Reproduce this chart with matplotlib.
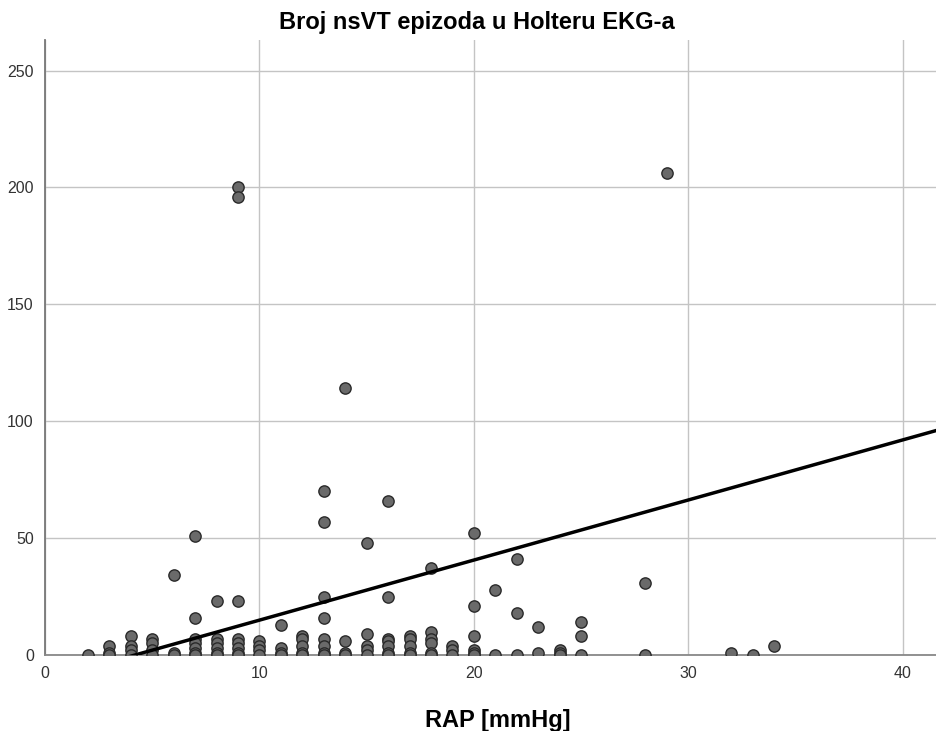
import matplotlib
matplotlib.use("Agg")
import matplotlib.pyplot as plt
import numpy as np

plt.rcParams['font.family'] = ['Liberation Sans', 'DejaVu Sans']

# RAP [mmHg] -> list of nsVT episode counts
points = {
    2: [0],
    3: [4, 1, 0],
    4: [8, 4, 2, 0],
    5: [7, 5, 2, 0],
    6: [34, 1, 0],
    7: [51, 16, 7, 5, 3, 1, 0],
    8: [23, 7, 5, 3, 1, 0],
    9: [200, 196, 23, 7, 5, 3, 1, 0],
    10: [6, 4, 2, 0],
    11: [13, 3, 1, 0],
    12: [8, 7, 4, 1, 0],
    13: [70, 57, 25, 16, 7, 4, 1, 0],
    14: [114, 6, 1, 0],
    15: [48, 9, 4, 2, 0],
    16: [66, 25, 7, 6, 4, 1, 0],
    17: [8, 7, 4, 1, 0],
    18: [37, 10, 7, 5, 1, 0],
    19: [4, 2, 0],
    20: [52, 21, 8, 2, 1, 0],
    21: [28, 0],
    22: [41, 18, 0],
    23: [12, 1],
    24: [2, 1, 0],
    25: [14, 8, 0],
    28: [31, 0],
    29: [206],
    32: [1],
    33: [0],
    34: [4],
}
rap = [x for x, ys in points.items() for _ in ys]
nsvt = [y for ys in points.values() for y in ys]

fit_intercept = -10.8
fit_slope = 2.57

x_ticks = [0, 10, 20, 30, 40]
y_ticks = [0, 50, 100, 150, 200, 250]
x_lim = (0, 41.6)
y_lim = (0, 263)

fig = plt.figure(figsize=(9.37, 7.31), dpi=100)
ax = fig.add_axes([0.048, 0.104, 0.952, 0.841])

ax.set_xlim(*x_lim)
ax.set_ylim(*y_lim)
ax.set_xticks(x_ticks)
ax.set_yticks(y_ticks)
ax.grid(True, color='#c4c4c4', linewidth=1.0)
ax.set_axisbelow(True)

for s in ['top', 'right']:
    ax.spines[s].set_visible(False)
ax.spines['left'].set_color('#777777')
ax.spines['bottom'].set_color('#888888')
ax.spines['left'].set_linewidth(1.3)
ax.spines['bottom'].set_linewidth(1.3)

ax.tick_params(length=0, labelsize=11.5, labelcolor='#333333', pad=8)

ax.scatter(rap, nsvt, s=66, facecolor='#6a6a6a', edgecolor='#2a2a2a',
           linewidth=1.0, zorder=3, clip_on=True)

xs = np.array(x_lim)
ax.plot(xs, fit_intercept + fit_slope * xs, color='black', linewidth=2.5, zorder=4)

ax.set_title('Broj nsVT epizoda u Holteru EKG-a', fontsize=17, fontweight='bold',
             pad=8, x=0.484)
ax.set_xlabel('RAP [mmHg]', fontsize=17, fontweight='bold', labelpad=20, x=0.508)

fig.savefig('out.png', dpi=100)
